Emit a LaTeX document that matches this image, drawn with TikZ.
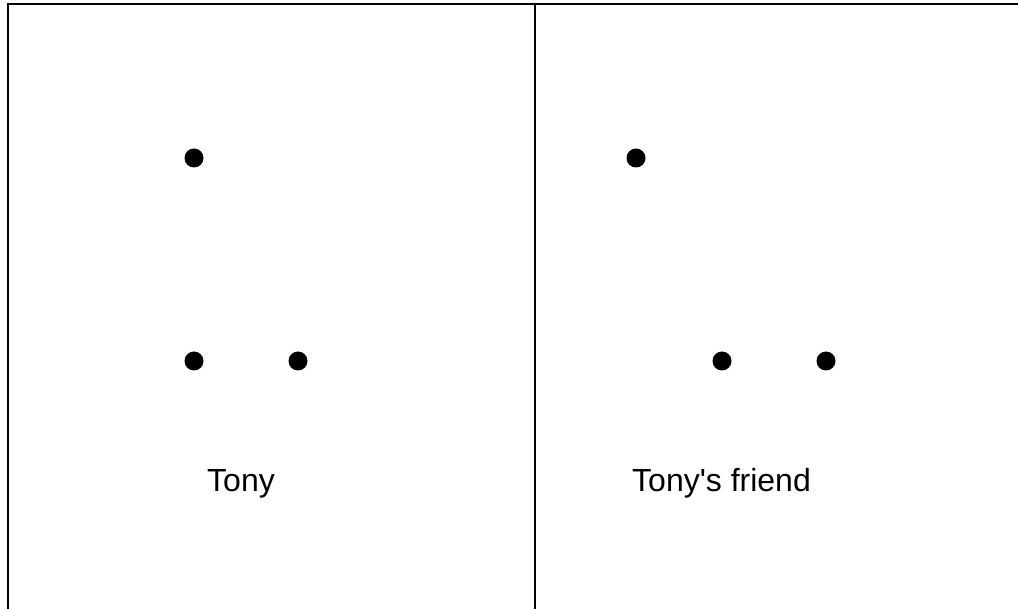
\documentclass[tikz,border=0pt]{standalone}
\usepackage{fontspec}
\setmainfont{Liberation Sans}
\usetikzlibrary{positioning}
\tikzset{
  dot/.style={circle,fill=black,inner sep=0pt,minimum size=19pt},
  lbl/.style={anchor=base west,inner sep=0pt,font=\fontsize{32}{38}\selectfont}
}
\begin{document}
\begin{tikzpicture}[x=1pt,y=-1pt]
\useasboundingbox (0,0) rectangle (1018,609);
% frame
\draw[line width=2pt] (7.5,609)--(7.5,4)--(1018,4);
\draw[line width=2pt] (535,4)--(535,609);
% Tony
\node[dot] (ta) at (194,158) {};
\node[dot] (tb) at (194,361) {};
\node[dot] (tc) at (298,361) {};
\node[lbl] (tony) at (207,492) {Tony};
% friend
\node[dot] (fa) at (636,158) {};
\node[dot] (fb) at (722,361) {};
\node[dot] (fc) at (826,361) {};
\node[lbl] (friend) at (632,492) {Tony\textquotesingle s friend};
\end{tikzpicture}
\end{document}
